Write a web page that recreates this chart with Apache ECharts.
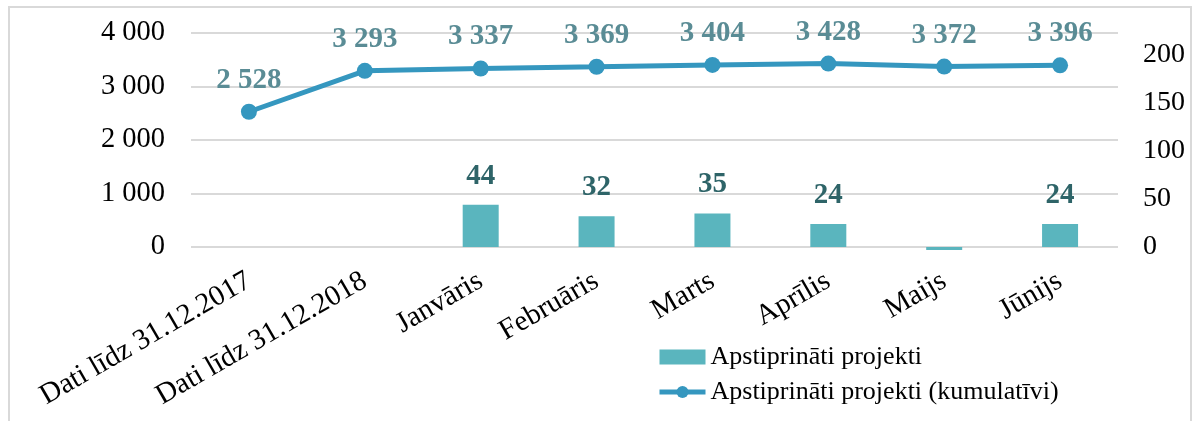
<!DOCTYPE html>
<html>
<head>
<meta charset="utf-8">
<script src="https://cdn.jsdelivr.net/npm/echarts@6/dist/echarts.min.js"></script>
<style>
html,body{margin:0;padding:0;background:#fff;}
#c{width:1194px;height:421px;}
</style>
</head>
<body>
<div id="c"></div>
<script>
const categories = ["Dati līdz 31.12.2017","Dati līdz 31.12.2018","Janvāris","Februāris","Marts","Aprīlis","Maijs","Jūnijs"];
const barValues = [null, null, 44, 32, 35, 24, -3, 24];
const lineValues = [2528, 3293, 3337, 3369, 3404, 3428, 3372, 3396];
const leftTicks = [0, 1000, 2000, 3000, 4000];
const rightTicks = [0, 50, 100, 150, 200];
const seriesNames = ["Apstiprināti projekti", "Apstiprināti projekti (kumulatīvi)"];

const FONT = '"Liberation Serif","Times New Roman",serif';
const fmt = v => String(v).replace(/\B(?=(\d{3})+(?!\d))/g, ' ');

const chart = echarts.init(document.getElementById('c'));
chart.setOption({
  animation: false,
  textStyle: {fontFamily: FONT},
  graphic: [{
    type: 'rect', silent: true, z: -10,
    shape: {x: 9, y: 7, width: 1182, height: 430},
    style: {fill: null, stroke: '#d9d9d9', lineWidth: 2}
  }],
  grid: {left: 191, right: 76, top: 33, bottom: 174, containLabel: false},
  legend: {
    orient: 'vertical', left: 652, top: 339,
    itemGap: 9, itemWidth: 46, itemHeight: 15,
    textStyle: {fontFamily: FONT, fontSize: 26, color: '#000'},
    data: [
      {name: seriesNames[0], icon: 'rect'},
      {name: seriesNames[1], lineStyle: {width: 5}}
    ]
  },
  xAxis: {
    type: 'category', data: categories,
    axisLine: {show: false}, axisTick: {show: false},
    axisLabel: {rotate: 30, interval: 0, margin: 32, fontSize: 29, color: '#000', fontFamily: FONT}
  },
  yAxis: [{
    type: 'value', min: leftTicks[0], max: leftTicks[leftTicks.length-1], interval: 1000,
    axisLine: {show: false}, axisTick: {show: false},
    splitLine: {lineStyle: {color: '#d9d9d9', width: 2}},
    axisLabel: {margin: 26, fontSize: 28.5, color: '#000', fontFamily: FONT, formatter: v => fmt(v)}
  }, {
    type: 'value', min: rightTicks[0], max: 223, interval: 50,
    axisLine: {show: false}, axisTick: {show: false}, splitLine: {show: false},
    axisLabel: {margin: 25, fontSize: 28, color: '#000', fontFamily: FONT, showMaxLabel: false,
      formatter: v => rightTicks.indexOf(v) >= 0 ? String(v) : ''}
  }],
  series: [{
    name: seriesNames[0], type: 'bar', yAxisIndex: 1, barWidth: 36, clip: false,
    itemStyle: {color: '#5ab5be'},
    data: barValues.map(v => ({value: v, label: {show: v !== null && v > 0}})),
    label: {show: true, position: 'top', distance: 14, fontSize: 29, fontWeight: 'bold',
      color: '#2e6468', fontFamily: FONT}
  }, {
    name: seriesNames[1], type: 'line', yAxisIndex: 0,
    data: lineValues,
    symbol: 'circle', symbolSize: 16,
    lineStyle: {color: '#3597bf', width: 5},
    itemStyle: {color: '#3597bf'},
    label: {show: true, position: 'top', distance: 9, fontSize: 29, fontWeight: 'bold',
      color: '#5a8c95', fontFamily: FONT, formatter: p => fmt(p.value)}
  }]
});
</script>
</body>
</html>
